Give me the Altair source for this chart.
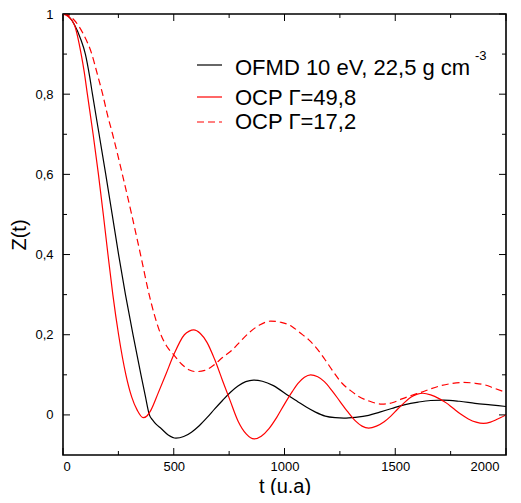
import altair as alt
import pandas as pd

# ---- data ----
t_ofmd = [0, 15, 50, 80, 101, 120, 133, 163, 193, 222, 251, 282, 316, 352, 372, 390, 405, 420,
          443, 475, 510, 545, 580, 615, 650, 685, 720, 755, 790, 825, 860, 900, 950, 1020, 1060,
          1100, 1140, 1184, 1230, 1268, 1320, 1380, 1430, 1484, 1540, 1604, 1660, 1718, 1790,
          1860, 1930, 2000]
z_ofmd = [1.0, 0.998, 0.975, 0.937, 0.9, 0.845, 0.8, 0.7, 0.6, 0.5, 0.4, 0.3, 0.2, 0.1, 0.046,
          0.0, -0.013, -0.023, -0.034, -0.050, -0.058, -0.054, -0.043, -0.027, -0.007, 0.015,
          0.036, 0.056, 0.072, 0.083, 0.087, 0.084, 0.073, 0.047, 0.033, 0.019, 0.007, -0.003,
          -0.007, -0.008, -0.006, -0.001, 0.007, 0.016, 0.025, 0.032, 0.036, 0.037, 0.034,
          0.029, 0.025, 0.021]

t_g498 = [0, 20, 52, 82, 96, 110, 136, 160, 182, 203, 225, 251, 284, 310, 335, 362, 380, 397,
          430, 465, 500, 548, 570, 590, 620, 650, 685, 720, 755, 790, 828, 863, 895, 930, 965,
          1000, 1035, 1060, 1090, 1118, 1150, 1180, 1215, 1250, 1285, 1320, 1350, 1380, 1415,
          1450, 1480, 1510, 1540, 1570, 1600, 1625, 1660, 1700, 1730, 1760, 1795, 1830, 1865,
          1898, 1930, 1960, 2000]
z_g498 = [1.0, 0.995, 0.972, 0.9, 0.855, 0.8, 0.7, 0.6, 0.5, 0.4, 0.3, 0.2, 0.1, 0.045, 0.012,
          -0.007, -0.002, 0.012, 0.055, 0.102, 0.15, 0.2, 0.209, 0.212, 0.203, 0.181, 0.138,
          0.086, 0.035, -0.015, -0.048, -0.06, -0.053, -0.034, -0.006, 0.027, 0.058, 0.078,
          0.094, 0.1, 0.095, 0.083, 0.06, 0.034, 0.008, -0.015, -0.028, -0.033, -0.028, -0.017,
          -0.003, 0.014, 0.03, 0.044, 0.052, 0.054, 0.05, 0.04, 0.03, 0.017, 0.002, -0.01,
          -0.018, -0.021, -0.018, -0.011, 0.0]

t_g172 = [0, 20, 50, 90, 130, 155, 179, 200, 224, 268, 310, 350, 389, 415, 442, 470, 500, 535,
          571, 600, 640, 680, 720, 764, 800, 840, 890, 938, 985, 1035, 1070, 1110, 1150, 1184,
          1220, 1260, 1300, 1335, 1380, 1440, 1490, 1530, 1575, 1620, 1660, 1700, 1750, 1808,
          1860, 1904, 1950, 2000]
z_g172 = [1.0, 0.998, 0.985, 0.952, 0.9, 0.85, 0.8, 0.75, 0.7, 0.6, 0.5, 0.4, 0.3, 0.245, 0.2,
          0.17, 0.15, 0.127, 0.112, 0.108, 0.111, 0.124, 0.143, 0.162, 0.183, 0.205, 0.225,
          0.234, 0.231, 0.22, 0.205, 0.187, 0.163, 0.137, 0.108, 0.079, 0.06, 0.046, 0.035,
          0.027, 0.031, 0.04, 0.049, 0.057, 0.065, 0.072, 0.078, 0.081, 0.079, 0.075, 0.066,
          0.056]

x_major = [0, 500, 1000, 1500, 2000]
x_minor = [250, 750, 1250, 1750]
y_major = [0, 0.2, 0.4, 0.6, 0.8, 1.0]
y_minor = [0.1, 0.3, 0.5, 0.7, 0.9]

legend_labels = ["OFMD 10 eV, 22,5 g cm", "OCP \u0393=49,8", "OCP \u0393=17,2"]

W, H = 443, 441
FONT = "Liberation Sans"

xs = alt.Scale(domain=[0, 2000], nice=False, zero=False)
ys = alt.Scale(domain=[-0.1, 1.0], nice=False, zero=False)

x_axis = alt.Axis(values=x_major, format="d", ticks=False, domain=False, grid=False,
                  labelFontSize=13, labelFont=FONT, labelColor="black", labelPadding=5,
                  labelOffset={"condition": {"test": "datum.value == 2000", "value": -7},
                               "value": 0},
                  title="t (u.a)", titleFont=FONT, titleFontSize=20,
                  titleFontWeight="normal", titleColor="black", titlePadding=3)
y_axis = alt.Axis(values=y_major, ticks=False, domain=False, grid=False, labelFontSize=13,
                  labelFont=FONT, labelColor="black", labelPadding=10, title="Z(t)",
                  titleFont=FONT, titleFontSize=20, titleFontWeight="normal",
                  titleColor="black", titlePadding=5,
                  labelExpr="replace(format(datum.value, '.1~f'), '.', ',')")


def line(ts, zs, color, dash=None):
    df = pd.DataFrame({"t": ts, "z": zs})
    kw = dict(color=color, strokeWidth=1.2, interpolate="monotone", clip=True)
    if dash:
        kw["strokeDash"] = dash
    return alt.Chart(df).mark_line(**kw).encode(
        x=alt.X("t:Q", scale=xs, axis=x_axis),
        y=alt.Y("z:Q", scale=ys, axis=y_axis),
    )


def xticks(vals, length):
    df = pd.DataFrame({"t": vals})
    base = alt.Chart(df).mark_rule(color="black", strokeWidth=1)
    bottom = base.encode(x=alt.X("t:Q", scale=xs, axis=x_axis), y=alt.value(H), y2=alt.value(H - length))
    top = base.encode(x=alt.X("t:Q", scale=xs, axis=x_axis), y=alt.value(0), y2=alt.value(length))
    return bottom + top


def yticks(vals, length):
    df = pd.DataFrame({"z": vals})
    base = alt.Chart(df).mark_rule(color="black", strokeWidth=1)
    left = base.encode(y=alt.Y("z:Q", scale=ys, axis=y_axis), x=alt.value(0), x2=alt.value(length))
    right = base.encode(y=alt.Y("z:Q", scale=ys, axis=y_axis), x=alt.value(W), x2=alt.value(W - length))
    return left + right


def leg_line(y, color, dash=None):
    kw = dict(color=color, strokeWidth=1.2)
    if dash:
        kw["strokeDash"] = dash
    return alt.Chart(pd.DataFrame({"a": [0]})).mark_rule(**kw).encode(
        x=alt.value(134), x2=alt.value(159), y=alt.value(y))


def leg_text(txt, x, y, size):
    return alt.Chart(pd.DataFrame({"a": [0]})).mark_text(
        align="left", baseline="middle", font=FONT, fontSize=size, color="black"
    ).encode(x=alt.value(x), y=alt.value(y), text=alt.value(txt))


chart = alt.layer(
    line(t_ofmd, z_ofmd, "black"),
    line(t_g498, z_g498, "#ff0000"),
    line(t_g172, z_g172, "#ff0000", [7, 4]),
    xticks(x_major, 7), xticks(x_minor, 4),
    yticks(y_major, 7), yticks(y_minor, 4),
    leg_line(51, "black"), leg_line(83, "#ff0000"), leg_line(108, "#ff0000", [7, 4]),
    leg_text(legend_labels[0], 172, 54, 22),
    leg_text("-3", 412, 42, 13),
    leg_text(legend_labels[1], 172, 84, 22),
    leg_text(legend_labels[2], 172, 108, 22),
).resolve_axis(x="shared", y="shared").properties(
    width=W, height=H,
    autosize=alt.AutoSizeParams(type="none"),
    padding={"left": 55, "top": 6, "right": 7, "bottom": 40},
    background="white",
).configure_view(stroke="black", strokeWidth=1.6)

chart.save("out.html", embed_options={"renderer": "svg", "actions": False})
